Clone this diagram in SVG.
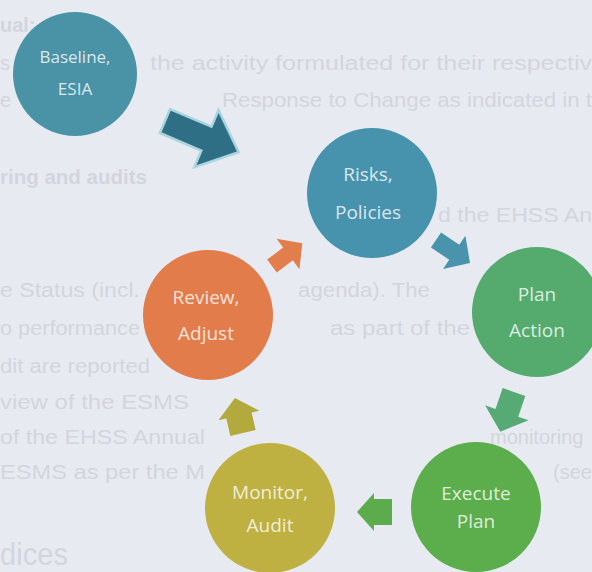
<svg xmlns="http://www.w3.org/2000/svg" width="592" height="572" viewBox="0 0 592 572">
  <style>
    .page { font-family: "Liberation Sans", Arial, sans-serif; font-size: 20px; fill: #d3d5de; }
    .page-b { font-weight: bold; }
    .lbl { font-family: "Open Sans", "Noto Sans", sans-serif; font-size: 19px; text-anchor: middle; fill: #ffffff; fill-opacity: 0.8; }
    .lbl-s { font-size: 17px; }
  </style>

  <rect x="0" y="0" width="592" height="572" fill="#e8eaf1"/>

  <!-- faded print of the page underneath -->
  <g id="page-text">
    <text class="page page-b" x="0" y="32">ual:</text>
    <text class="page" x="0" y="70">s</text>
    <text class="page" x="150" y="70" textLength="442" lengthAdjust="spacingAndGlyphs">the activity formulated for their respectiv</text>
    <text class="page" x="0" y="107">e</text>
    <text class="page" x="222" y="107" textLength="370" lengthAdjust="spacingAndGlyphs">Response to Change as indicated in t</text>
    <text class="page page-b" x="0" y="184" textLength="147" lengthAdjust="spacingAndGlyphs">ring and audits</text>
    <text class="page" x="438" y="222" textLength="154" lengthAdjust="spacingAndGlyphs">d the EHSS An</text>
    <text class="page" x="0" y="297" textLength="140" lengthAdjust="spacingAndGlyphs">e Status (incl.</text>
    <text class="page" x="298" y="297" textLength="132" lengthAdjust="spacingAndGlyphs">agenda). The</text>
    <text class="page" x="0" y="335" textLength="140" lengthAdjust="spacingAndGlyphs">o performance</text>
    <text class="page" x="330" y="335" textLength="140" lengthAdjust="spacingAndGlyphs">as part of the</text>
    <text class="page" x="0" y="373" textLength="150" lengthAdjust="spacingAndGlyphs">dit are reported</text>
    <text class="page" x="0" y="409" textLength="189" lengthAdjust="spacingAndGlyphs">view of the ESMS</text>
    <text class="page" x="0" y="444" textLength="205" lengthAdjust="spacingAndGlyphs">of the EHSS Annual</text>
    <text class="page" x="490" y="444">monitoring</text>
    <text class="page" x="0" y="479" textLength="205" lengthAdjust="spacingAndGlyphs">ESMS as per the M</text>
    <text class="page" x="553" y="479" textLength="39" lengthAdjust="spacingAndGlyphs">(see</text>
    <text class="page" x="0" y="565" style="font-size:32px" textLength="68" lengthAdjust="spacingAndGlyphs">dices</text>
  </g>

  <g id="connectors">
    <!-- Baseline -> Risks -->
    <path d="M0,-13 L45,-13 L45,-31 L80,0 L45,31 L45,13 L0,13 Z" transform="translate(165,121) rotate(23)" fill="#2e6f86" stroke="#a9d5df" stroke-width="2.5" stroke-linejoin="miter"/>
    <!-- Risks -> Plan -->
    <path d="M0,-9 L22,-9 L22,-20 L41,0 L22,20 L22,9 L0,9 Z" transform="translate(436,240) rotate(34)" fill="#4a93ad"/>
    <!-- Plan -> Execute -->
    <path d="M0,-12 L22,-12 L22,-23 L42,0 L22,23 L22,12 L0,12 Z" transform="translate(514,392) rotate(109)" fill="#58aa74"/>
    <!-- Execute -> Monitor -->
    <path d="M0,-13 L18,-13 L18,-19 L35,0 L18,19 L18,13 L0,13 Z" transform="translate(392,512) rotate(180)" fill="#5cab4c"/>
    <!-- Monitor -> Review -->
    <path d="M0,-13 L18,-13 L18,-21 L36,0 L18,21 L18,13 L0,13 Z" transform="translate(243,433) rotate(-103)" fill="#b3aa3e"/>
    <!-- Review -> Risks -->
    <path d="M0,-8 L20,-8 L20,-19 L38,0 L20,19 L20,8 L0,8 Z" transform="translate(272,266) rotate(-37)" fill="#e27d4c"/>
  </g>

  <g id="baseline">
    <circle cx="75" cy="74" r="62" fill="#4a93a7"/>
    <text class="lbl lbl-s" x="75" y="63">Baseline,</text>
    <text class="lbl lbl-s" x="75" y="95">ESIA</text>
  </g>

  <g id="risks">
    <circle cx="372" cy="193" r="65" fill="#4792ad"/>
    <text class="lbl" x="368" y="181">Risks,</text>
    <text class="lbl" x="368" y="219">Policies</text>
  </g>

  <g id="plan-action">
    <circle cx="537" cy="312" r="65" fill="#55aa6e"/>
    <text class="lbl" x="537" y="301">Plan</text>
    <text class="lbl" x="537" y="337">Action</text>
  </g>

  <g id="execute-plan">
    <circle cx="476" cy="507" r="65" fill="#5cad4b"/>
    <text class="lbl" x="476" y="500">Execute</text>
    <text class="lbl" x="476" y="528">Plan</text>
  </g>

  <g id="monitor-audit">
    <circle cx="270" cy="508" r="65" fill="#beb041"/>
    <text class="lbl" x="270" y="499">Monitor,</text>
    <text class="lbl" x="270" y="532">Audit</text>
  </g>

  <g id="review-adjust">
    <circle cx="208" cy="315" r="65" fill="#e27c4b"/>
    <text class="lbl" x="206" y="304">Review,</text>
    <text class="lbl" x="206" y="340">Adjust</text>
  </g>
</svg>
